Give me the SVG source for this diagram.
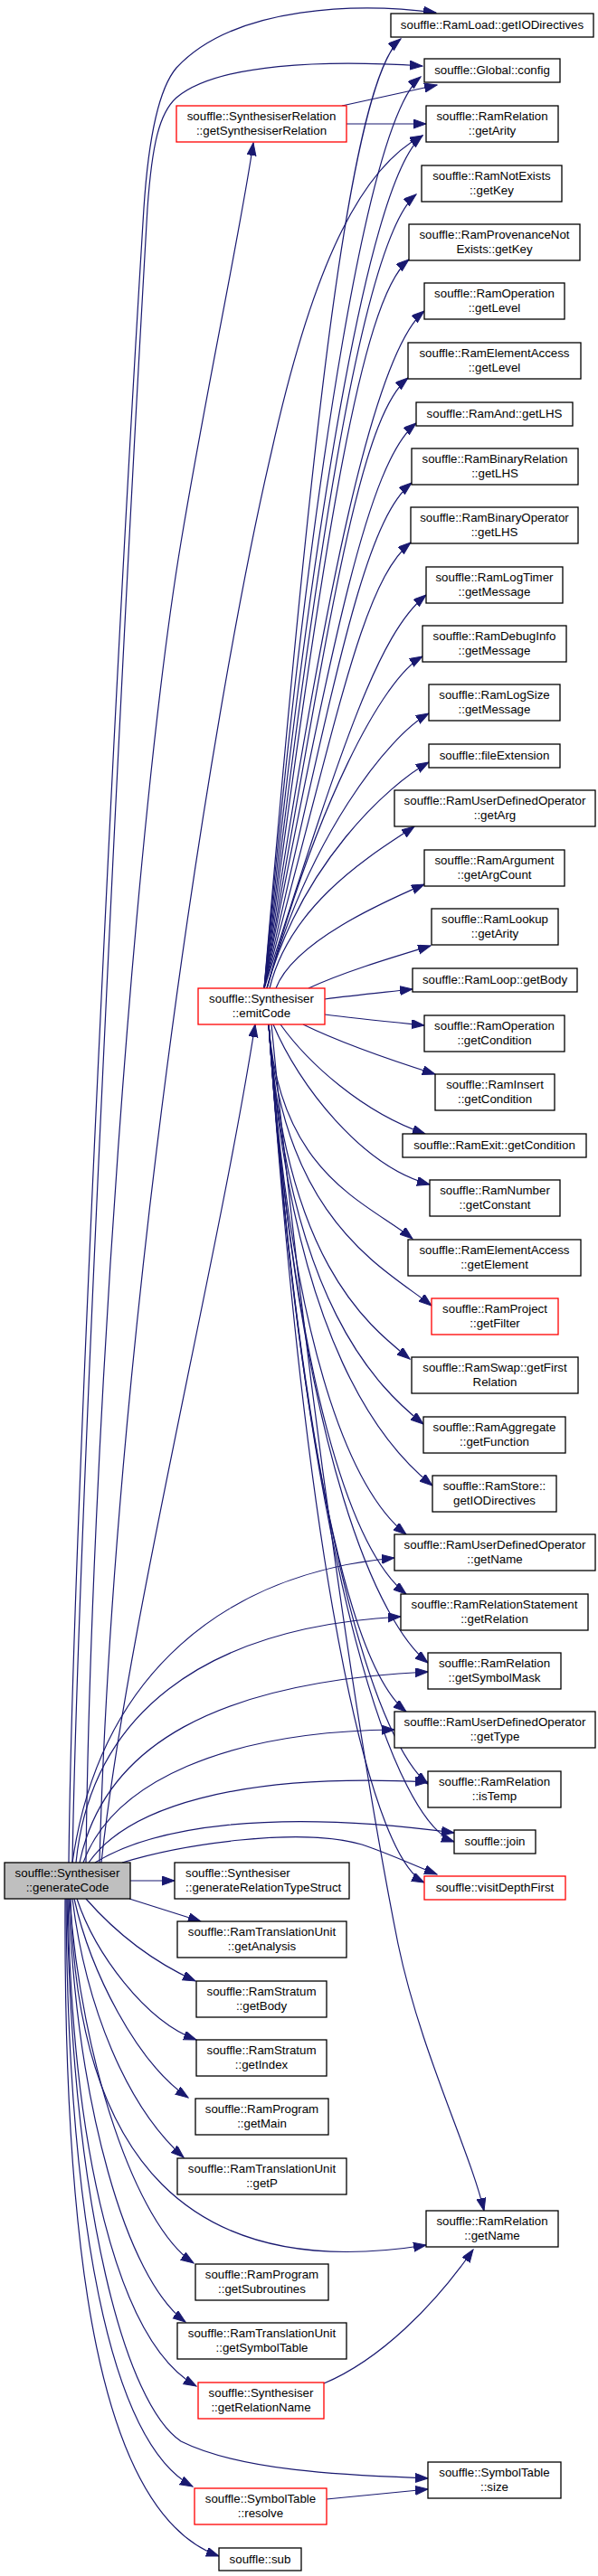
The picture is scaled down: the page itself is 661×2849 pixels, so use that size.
<svg xmlns="http://www.w3.org/2000/svg" width="661" height="2849" viewBox="0 0 661 2849">
<style>
.n rect{fill:#fff;stroke:#000;stroke-width:1.3}
.n.r rect{stroke:#ff0000}
.n.g rect{fill:#bfbfbf}
.n text{font-family:"Liberation Sans",Arial,sans-serif;font-size:13.3px;fill:#000;text-anchor:middle}
#edges path{fill:none;stroke:#191970;stroke-width:1.2;marker-end:url(#ah)}
</style>
<defs>
<marker id="ah" markerUnits="userSpaceOnUse" markerWidth="15" markerHeight="11" refX="14" refY="5" orient="auto">
<path d="M0,0 L14,5 L0,10 z" fill="#191970" stroke="#191970" stroke-width="1"/>
</marker>
</defs>
<rect width="661" height="2849" fill="#fff"/>
<g id="edges">
<path d="M76,2060 C80,1700 130,700 159,230 C165,140 178,95 195,75 C260,5 400,3 482,14"/>
<path d="M80,2060 C86,1700 136,700 163,230 C168,160 176,125 195,108 C240,70 360,66 467,73"/>
<path d="M95,2060 C100,1600 150,900 200,600 C230,420 265,260 280,158"/>
<path d="M110,2060 C125,1500 230,800 300,500 C340,320 390,190 467,150"/>
<path d="M112,2060 C140,1800 240,1400 282,1133"/>
<path d="M378,117 L483,94"/>
<path d="M383,137 L471,137"/>
<path d="M292,1093 C345,463 388,88 443,43"/>
<path d="M292,1093 C347,488 410,130 465,85"/>
<path d="M292,1093 C350,527 412,195 467,150"/>
<path d="M292,1093 C354,566 405,260 460,215"/>
<path d="M292,1093 C357,609 397,332 452,287"/>
<path d="M292,1093 C360,644 414,389 469,344"/>
<path d="M292,1093 C364,688 396,463 451,418"/>
<path d="M292,1093 C366,718 405,513 460,468"/>
<path d="M292,1093 C370,758 400,579 455,534"/>
<path d="M292,1093 C373,797 399,645 454,600"/>
<path d="M292,1093 C376,832 416,703 471,658"/>
<path d="M295,1093 C350,891 422,751 467,726"/>
<path d="M295,1093 C341,926 429,814 474,789"/>
<path d="M295,1093 C333,956 429,868 474,843"/>
<path d="M298,1093 C322,995 420,940 458,914"/>
<path d="M305,1093 C325,1040 430,995 469,978"/>
<path d="M341,1093 C380,1075 430,1060 476,1046"/>
<path d="M359,1105 C390,1101 420,1098 456,1094"/>
<path d="M359,1122 C390,1126 430,1130 469,1134"/>
<path d="M335,1133 C380,1155 440,1175 481,1188"/>
<path d="M310,1133 C340,1175 400,1230 470,1254"/>
<path d="M302,1133 C330,1200 400,1290 475,1310"/>
<path d="M297,1133 C309,1299 406,1330 456,1370"/>
<path d="M297,1133 C313,1351 427,1404 477,1444"/>
<path d="M297,1133 C316,1392 403,1463 453,1503"/>
<path d="M297,1133 C319,1442 418,1535 468,1575"/>
<path d="M297,1133 C323,1490 428,1603 478,1643"/>
<path d="M297,1133 C325,1528 399,1657 449,1697"/>
<path d="M297,1133 C329,1574 399,1723 449,1763"/>
<path d="M297,1133 C332,1627 423,1799 473,1839"/>
<path d="M297,1133 C335,1665 399,1853 449,1893"/>
<path d="M297,1133 C339,1721 423,1933 473,1973"/>
<path d="M297,1133 C342,1766 440,2015 502,2037"/>
<path d="M297,1133 C344,1797 415,2055 469,2082"/>
<path d="M300,1133 C340,1550 400,1950 440,2150 C465,2270 520,2380 535,2445"/>
<path d="M80,2060 C110,1850 250,1740 436,1723"/>
<path d="M84,2060 C100,1900 220,1800 443,1788"/>
<path d="M88,2060 C115,1930 240,1860 473,1849"/>
<path d="M92,2060 C125,1970 250,1915 436,1913"/>
<path d="M98,2060 C140,2000 260,1960 473,1971"/>
<path d="M105,2060 C170,2020 300,2000 502,2027"/>
<path d="M135,2060 C200,2040 330,2020 400,2040 C430,2050 455,2062 483,2073"/>
<path d="M144,2080 L193,2080"/>
<path d="M143,2100 L222,2125"/>
<path d="M95,2100 C130,2140 170,2170 216,2191"/>
<path d="M85,2100 C105,2160 160,2235 217,2256"/>
<path d="M82,2100 C100,2180 150,2280 208,2320"/>
<path d="M80,2100 C95,2220 140,2330 203,2386"/>
<path d="M78,2100 C85,2390 210,2525 471,2483"/>
<path d="M77,2100 C90,2280 150,2460 214,2503"/>
<path d="M76,2100 C85,2330 140,2520 205,2568"/>
<path d="M75,2100 C80,2380 130,2590 217,2639"/>
<path d="M74,2100 C80,2450 140,2660 200,2700 C270,2735 400,2738 473,2741"/>
<path d="M73,2100 C75,2450 120,2700 213,2750"/>
<path d="M72,2100 C70,2500 110,2780 242,2827"/>
<path d="M358,2636 C420,2610 480,2550 523,2488"/>
<path d="M361,2764 L473,2753"/>
</g>
<g id="generateCode" class="n g"><rect x="5" y="2060" width="139" height="40"/><text x="74.5" y="2075.5">souffle::Synthesiser</text><text x="74.5" y="2092">::generateCode</text></g>
<g id="getSynthesiserRelation" class="n r"><rect x="195" y="117" width="188" height="40"/><text x="289" y="132.5">souffle::SynthesiserRelation</text><text x="289" y="149">::getSynthesiserRelation</text></g>
<g id="emitCode" class="n r"><rect x="219" y="1093" width="140" height="40"/><text x="289" y="1108.5">souffle::Synthesiser</text><text x="289" y="1125">::emitCode</text></g>
<g id="generateRelationTypeStruct" class="n"><rect x="193" y="2060" width="193" height="40"/><text x="205" y="2075.5" style="text-anchor:start">souffle::Synthesiser</text><text x="205" y="2092" style="text-anchor:start">::generateRelationTypeStruct</text></g>
<g id="getAnalysis" class="n"><rect x="196" y="2125" width="187" height="40"/><text x="289.5" y="2140.5">souffle::RamTranslationUnit</text><text x="289.5" y="2157">::getAnalysis</text></g>
<g id="stratumGetBody" class="n"><rect x="217" y="2191" width="144" height="40"/><text x="289" y="2206.5">souffle::RamStratum</text><text x="289" y="2223">::getBody</text></g>
<g id="stratumGetIndex" class="n"><rect x="217" y="2256" width="144" height="40"/><text x="289" y="2271.5">souffle::RamStratum</text><text x="289" y="2288">::getIndex</text></g>
<g id="getMain" class="n"><rect x="216" y="2321" width="147" height="40"/><text x="289.5" y="2336.5">souffle::RamProgram</text><text x="289.5" y="2353">::getMain</text></g>
<g id="getP" class="n"><rect x="196" y="2387" width="187" height="40"/><text x="289.5" y="2402.5">souffle::RamTranslationUnit</text><text x="289.5" y="2419">::getP</text></g>
<g id="getSubroutines" class="n"><rect x="216" y="2504" width="147" height="40"/><text x="289.5" y="2519.5">souffle::RamProgram</text><text x="289.5" y="2536">::getSubroutines</text></g>
<g id="getSymbolTable" class="n"><rect x="196" y="2569" width="187" height="40"/><text x="289.5" y="2584.5">souffle::RamTranslationUnit</text><text x="289.5" y="2601">::getSymbolTable</text></g>
<g id="getRelationName" class="n r"><rect x="219" y="2635" width="139" height="40"/><text x="288.5" y="2650.5">souffle::Synthesiser</text><text x="288.5" y="2667">::getRelationName</text></g>
<g id="resolve" class="n r"><rect x="215" y="2752" width="146" height="40"/><text x="288" y="2767.5">souffle::SymbolTable</text><text x="288" y="2784">::resolve</text></g>
<g id="sub" class="n"><rect x="242" y="2818" width="91" height="25"/><text x="287.5" y="2835">souffle::sub</text></g>
<g id="loadGetIODirectives" class="n"><rect x="432" y="15" width="224" height="26"/><text x="544" y="32">souffle::RamLoad::getIODirectives</text></g>
<g id="config" class="n"><rect x="469" y="65" width="150" height="26"/><text x="544" y="82">souffle::Global::config</text></g>
<g id="relGetArity" class="n"><rect x="471" y="117" width="146" height="40"/><text x="544" y="132.5">souffle::RamRelation</text><text x="544" y="149">::getArity</text></g>
<g id="notExistsGetKey" class="n"><rect x="466" y="183" width="155" height="40"/><text x="543.5" y="198.5">souffle::RamNotExists</text><text x="543.5" y="215">::getKey</text></g>
<g id="provNotExistsGetKey" class="n"><rect x="452" y="248" width="189" height="40"/><text x="546.5" y="263.5">souffle::RamProvenanceNot</text><text x="546.5" y="280">Exists::getKey</text></g>
<g id="opGetLevel" class="n"><rect x="469" y="313" width="155" height="40"/><text x="546.5" y="328.5">souffle::RamOperation</text><text x="546.5" y="345">::getLevel</text></g>
<g id="eaGetLevel" class="n"><rect x="451" y="379" width="191" height="40"/><text x="546.5" y="394.5">souffle::RamElementAccess</text><text x="546.5" y="411">::getLevel</text></g>
<g id="andGetLHS" class="n"><rect x="460" y="445" width="173" height="26"/><text x="546.5" y="462">souffle::RamAnd::getLHS</text></g>
<g id="binRelGetLHS" class="n"><rect x="455" y="496" width="184" height="40"/><text x="547" y="511.5">souffle::RamBinaryRelation</text><text x="547" y="528">::getLHS</text></g>
<g id="binOpGetLHS" class="n"><rect x="454" y="561" width="185" height="40"/><text x="546.5" y="576.5">souffle::RamBinaryOperator</text><text x="546.5" y="593">::getLHS</text></g>
<g id="logTimerGetMessage" class="n"><rect x="471" y="627" width="151" height="40"/><text x="546.5" y="642.5">souffle::RamLogTimer</text><text x="546.5" y="659">::getMessage</text></g>
<g id="debugInfoGetMessage" class="n"><rect x="467" y="692" width="159" height="40"/><text x="546.5" y="707.5">souffle::RamDebugInfo</text><text x="546.5" y="724">::getMessage</text></g>
<g id="logSizeGetMessage" class="n"><rect x="474" y="757" width="145" height="40"/><text x="546.5" y="772.5">souffle::RamLogSize</text><text x="546.5" y="789">::getMessage</text></g>
<g id="fileExtension" class="n"><rect x="474" y="823" width="145" height="26"/><text x="546.5" y="840">souffle::fileExtension</text></g>
<g id="udoGetArg" class="n"><rect x="436" y="874" width="222" height="40"/><text x="547" y="889.5">souffle::RamUserDefinedOperator</text><text x="547" y="906">::getArg</text></g>
<g id="argGetArgCount" class="n"><rect x="469" y="940" width="155" height="40"/><text x="546.5" y="955.5">souffle::RamArgument</text><text x="546.5" y="972">::getArgCount</text></g>
<g id="lookupGetArity" class="n"><rect x="477" y="1005" width="140" height="40"/><text x="547" y="1020.5">souffle::RamLookup</text><text x="547" y="1037">::getArity</text></g>
<g id="loopGetBody" class="n"><rect x="456" y="1071" width="182" height="26"/><text x="547" y="1088">souffle::RamLoop::getBody</text></g>
<g id="opGetCondition" class="n"><rect x="469" y="1123" width="155" height="40"/><text x="546.5" y="1138.5">souffle::RamOperation</text><text x="546.5" y="1155">::getCondition</text></g>
<g id="insertGetCondition" class="n"><rect x="481" y="1188" width="132" height="40"/><text x="547" y="1203.5">souffle::RamInsert</text><text x="547" y="1220">::getCondition</text></g>
<g id="exitGetCondition" class="n"><rect x="445" y="1254" width="203" height="26"/><text x="546.5" y="1271">souffle::RamExit::getCondition</text></g>
<g id="numberGetConstant" class="n"><rect x="475" y="1305" width="144" height="40"/><text x="547" y="1320.5">souffle::RamNumber</text><text x="547" y="1337">::getConstant</text></g>
<g id="eaGetElement" class="n"><rect x="451" y="1371" width="191" height="40"/><text x="546.5" y="1386.5">souffle::RamElementAccess</text><text x="546.5" y="1403">::getElement</text></g>
<g id="projectGetFilter" class="n r"><rect x="477" y="1436" width="140" height="40"/><text x="547" y="1451.5">souffle::RamProject</text><text x="547" y="1468">::getFilter</text></g>
<g id="swapGetFirstRelation" class="n"><rect x="455" y="1501" width="184" height="40"/><text x="547" y="1516.5">souffle::RamSwap::getFirst</text><text x="547" y="1533">Relation</text></g>
<g id="aggregateGetFunction" class="n"><rect x="468" y="1567" width="157" height="40"/><text x="546.5" y="1582.5">souffle::RamAggregate</text><text x="546.5" y="1599">::getFunction</text></g>
<g id="storeGetIODirectives" class="n"><rect x="478" y="1632" width="137" height="40"/><text x="546.5" y="1647.5">souffle::RamStore::</text><text x="546.5" y="1664">getIODirectives</text></g>
<g id="udoGetName" class="n"><rect x="436" y="1697" width="222" height="40"/><text x="547" y="1712.5">souffle::RamUserDefinedOperator</text><text x="547" y="1729">::getName</text></g>
<g id="relStmtGetRelation" class="n"><rect x="443" y="1763" width="207" height="40"/><text x="546.5" y="1778.5">souffle::RamRelationStatement</text><text x="546.5" y="1795">::getRelation</text></g>
<g id="relGetSymbolMask" class="n"><rect x="473" y="1828" width="147" height="40"/><text x="546.5" y="1843.5">souffle::RamRelation</text><text x="546.5" y="1860">::getSymbolMask</text></g>
<g id="udoGetType" class="n"><rect x="436" y="1893" width="222" height="40"/><text x="547" y="1908.5">souffle::RamUserDefinedOperator</text><text x="547" y="1925">::getType</text></g>
<g id="relIsTemp" class="n"><rect x="473" y="1959" width="147" height="40"/><text x="546.5" y="1974.5">souffle::RamRelation</text><text x="546.5" y="1991">::isTemp</text></g>
<g id="join" class="n"><rect x="502" y="2024" width="90" height="26"/><text x="547" y="2041">souffle::join</text></g>
<g id="visitDepthFirst" class="n r"><rect x="469" y="2075" width="156" height="26"/><text x="547" y="2092">souffle::visitDepthFirst</text></g>
<g id="relGetName" class="n"><rect x="471" y="2445" width="146" height="40"/><text x="544" y="2460.5">souffle::RamRelation</text><text x="544" y="2477">::getName</text></g>
<g id="symbolTableSize" class="n"><rect x="473" y="2723" width="147" height="40"/><text x="546.5" y="2738.5">souffle::SymbolTable</text><text x="546.5" y="2755">::size</text></g>
</svg>
